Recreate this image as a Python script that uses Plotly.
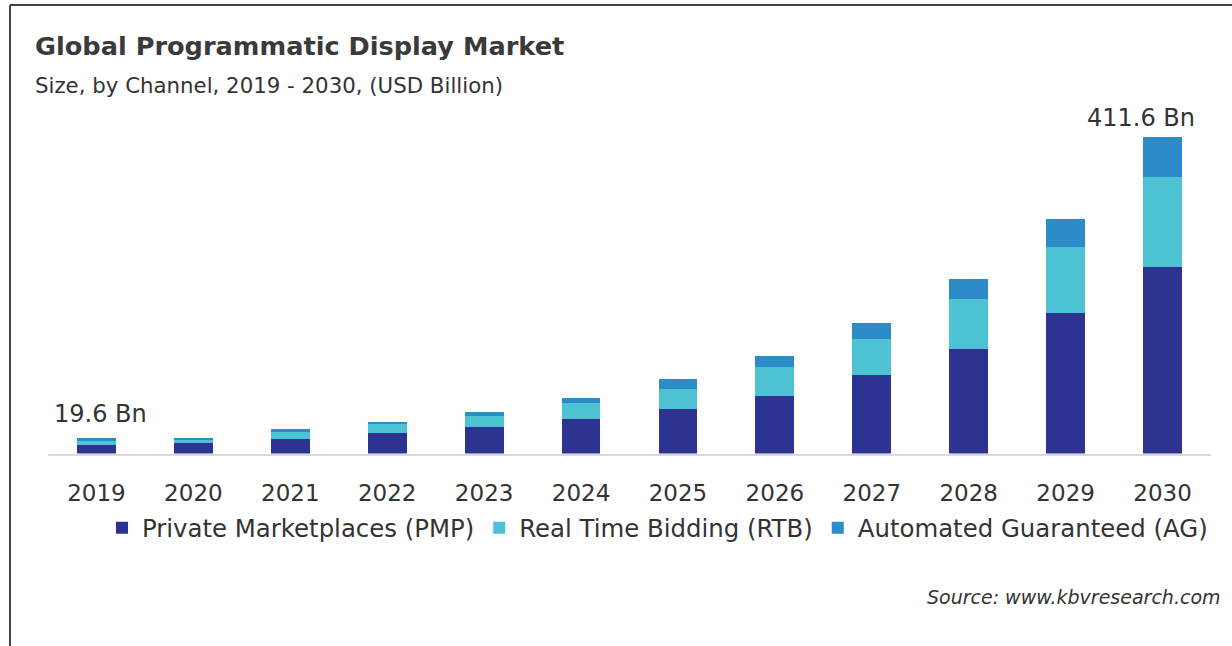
import plotly.graph_objects as go

# Global programmatic display market, USD billion, by channel
years = ["2019", "2020", "2021", "2022", "2023", "2024",
         "2025", "2026", "2027", "2028", "2029", "2030"]
pmp = [11.0, 13.3, 18.7, 26.3, 34.9, 44.9, 57.5, 75.2, 102.2, 135.6, 182.5, 242.4]
rtb = [6.3, 5.3, 9.8, 12.1, 14.3, 20.4, 26.0, 37.0, 46.5, 65.5, 85.9, 117.2]
ag = [2.3, 2.0, 3.0, 3.0, 5.2, 7.3, 13.0, 15.1, 20.8, 25.6, 36.4, 52.0]

series = [
    ("Private Marketplaces (PMP)", pmp, "#2D3391"),
    ("Real Time Bidding (RTB)", rtb, "#4CC2D2"),
    ("Automated Guaranteed (AG)", ag, "#2D8BC8"),
]

W, H = 1232, 646
FONT = "DejaVu Sans"
TEXT = "#333333"

fig = go.Figure()
for name, vals, color in series:
    fig.add_trace(go.Bar(
        x=years, y=vals, name=name,
        marker=dict(color=color, line=dict(width=0)),
        width=0.4,
    ))

totals = [a + b + c for a, b, c in zip(pmp, rtb, ag)]

# total labels for the first and last year (category axes take the index)
first, last = 0, len(years) - 1
fig.add_annotation(x=first, y=totals[first], xref="x", yref="y",
                   text=f"{totals[first]:.1f} Bn",
                   showarrow=False, yanchor="bottom", yshift=8, xshift=4,
                   font=dict(family=FONT, size=24, color=TEXT))
fig.add_annotation(x=last, y=totals[last], xref="x", yref="y",
                   text=f"{totals[last]:.1f} Bn",
                   showarrow=False, yanchor="bottom", yshift=3, xshift=-22,
                   font=dict(family=FONT, size=24, color=TEXT))

def px(x):
    return x / W

def py(y):
    return 1 - y / H

# title block
fig.add_annotation(xref="paper", yref="paper", x=px(33), y=py(46),
                   xanchor="left", yanchor="middle", showarrow=False,
                   text="<b>Global Programmatic Display Market</b>",
                   font=dict(family=FONT, size=25.6, color="#3a3a3a"))
fig.add_annotation(xref="paper", yref="paper", x=px(33), y=py(86),
                   xanchor="left", yanchor="middle", showarrow=False,
                   text="Size, by Channel, 2019 - 2030, (USD Billion)",
                   font=dict(family=FONT, size=21.3, color=TEXT))
fig.add_annotation(xref="paper", yref="paper", x=px(1223), y=py(597),
                   xanchor="right", yanchor="middle", showarrow=False,
                   text="<i>Source: www.kbvresearch.com</i>",
                   font=dict(family=FONT, size=19, color=TEXT))

# frame lines along the top and left edges
fig.add_shape(type="line", xref="paper", yref="paper",
              x0=px(10), x1=1, y0=py(5), y1=py(5),
              line=dict(color="#444444", width=2))
fig.add_shape(type="line", xref="paper", yref="paper",
              x0=px(10), x1=px(10), y0=0, y1=py(5),
              line=dict(color="#444444", width=2))

base_px, top_px = 453.5, 100
fig.update_layout(
    width=W, height=H,
    margin=dict(l=0, r=0, t=0, b=0),
    paper_bgcolor="white", plot_bgcolor="white",
    barmode="stack",
    showlegend=True,
    legend=dict(orientation="h", x=px(102), y=py(528), xanchor="left",
                yanchor="middle", font=dict(family=FONT, size=24.4, color=TEXT),
                traceorder="normal"),
    xaxis=dict(type="category", domain=[px(48), px(1211)], range=[-0.5, 11.5],
               showline=True, linecolor="#d9d9d9", linewidth=2,
               showgrid=False, ticks="", ticklabelstandoff=18,
               tickfont=dict(family=FONT, size=23, color=TEXT)),
    yaxis=dict(domain=[py(base_px), py(top_px)],
               range=[0, (base_px - top_px) * 411.6 / (base_px - 137.3)],
               visible=True, showline=False, showticklabels=False,
               zeroline=False, ticks="", showgrid=False),
)

fig.write_html("out.html")
